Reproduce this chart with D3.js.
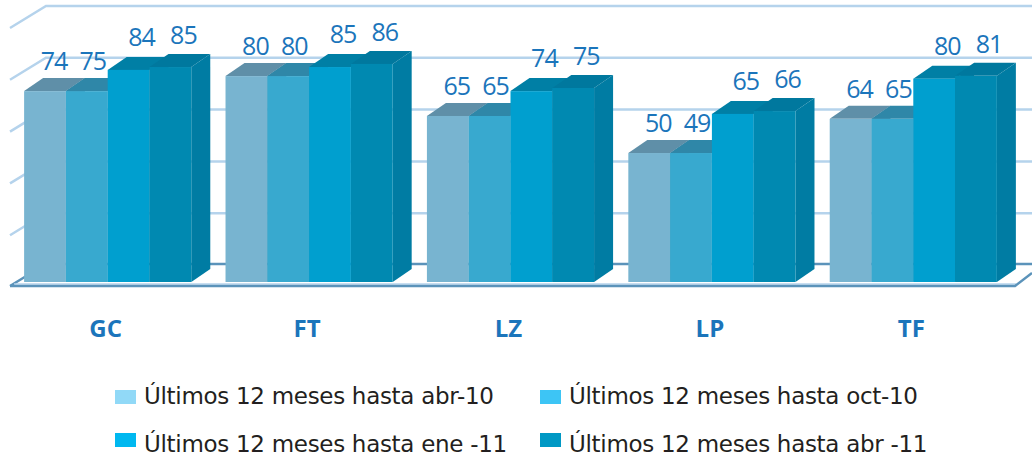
<!DOCTYPE html>
<html>
<head>
<meta charset="utf-8">
<script src="https://d3js.org/d3.v7.min.js"></script>
<style>
  html, body { margin: 0; padding: 0; background: #fff; }
  svg { display: block; }
  text { font-family: "DejaVu Sans", sans-serif; }
</style>
</head>
<body>
<svg id="chart" width="1032" height="455"></svg>
<script>
var categories = ["GC", "FT", "LZ", "LP", "TF"];
var seriesNames = [
    "Últimos 12 meses hasta abr-10",
    "Últimos 12 meses hasta oct-10",
    "Últimos 12 meses hasta ene -11",
    "Últimos 12 meses hasta abr -11"
];

// bar heights, the printed labels don't quite agree with them
var abr10 = [73.7, 79.5, 64.1, 49.8, 63.0];
var oct10 = [73.7, 79.5, 64.1, 49.8, 63.0];
var ene11 = [81.9, 83.0, 73.7, 64.9, 78.5];
var abr11 = [83.0, 84.2, 74.9, 66.0, 79.6];

var abr10Labels = [74, 80, 65, 50, 64];
var oct10Labels = [75, 80, 65, 49, 65];
var ene11Labels = [84, 85, 74, 65, 80];
var abr11Labels = [85, 86, 75, 66, 81];

var series = [abr10, oct10, ene11, abr11];
var seriesLabels = [abr10Labels, oct10Labels, ene11Labels, abr11Labels];

var frontColors = ["#78b4d0", "#38a9cf", "#009fcf", "#0089b1"];
var topColors = ["#5f8fa8", "#2f87a8", "#007fa5", "#00789e"];
var sideColors = ["#5f8fa8", "#2f87a8", "#007fa5", "#007ca3"];
var legendColors = ["#91d9f7", "#3dc5f5", "#00b8f0", "#0098c4"];

var barDepth = { x: 19, y: 13 };
var wallDepth = { x: 36, y: 22 };
var blue = "#1b75bb";

// label nudges per series, they sit off centre towards the bar's depth
var labelDx = [9, 6, 13, 13];
var labelDy = [-21, -21, -24, -23];

var svg = d3.select("#chart");

var x0 = d3.scaleBand()
    .domain(categories)
    .range([7, 1014])
    .paddingInner(0.17)
    .paddingOuter(0.085);

var x1 = d3.scaleBand()
    .domain(d3.range(series.length))
    .range([0, x0.bandwidth()]);

var y = d3.scaleLinear().domain([0, 100]).range([282, 23]);

// walls
var grid = svg.append("g");
var floorFront = y(0) + 4;
var leftX = 10;

grid.selectAll("path.grid")
    .data(y.ticks(5).filter(d => d > 0))
    .join("path")
    .attr("class", "grid")
    .attr("fill", "none")
    .attr("stroke", "#b5d3ec")
    .attr("stroke-width", 2.5)
    .attr("d", d => {
        var front = y(d) + 5;
        var back = front - wallDepth.y;
        return `M${leftX},${front}L${leftX + wallDepth.x},${back}H1032`;
    });

// floor
var floorBack = floorFront - wallDepth.y;
grid.append("path")
    .attr("fill", "none")
    .attr("stroke", "#5b93ba")
    .attr("stroke-width", 2.5)
    .attr("d", `M${leftX},${floorFront}L${leftX + wallDepth.x},${floorBack}H1032`);
grid.append("path")
    .attr("fill", "none")
    .attr("stroke", "#b5d3ec")
    .attr("stroke-width", 1.5)
    .attr("d", `M${leftX + 4},${floorFront - 2}H1016`);
grid.append("path")
    .attr("fill", "none")
    .attr("stroke", "#5b93ba")
    .attr("stroke-width", 2.5)
    .attr("d", `M${leftX},${floorFront}H1015L1032,${floorFront - 13}`);

// bars, left to right so each front hides its neighbour's side
var groups = svg.selectAll("g.cat")
    .data(categories)
    .join("g")
    .attr("class", "cat")
    .attr("transform", d => `translate(${x0(d)},0)`);

groups.each(function (cat, i) {
    var g = d3.select(this);
    series.forEach((values, s) => {
        var left = x1(s), w = x1.bandwidth(), t = y(values[i]), b = y(0);
        var d = barDepth;

        g.append("path")
            .attr("fill", sideColors[s])
            .attr("d", `M${left + w},${t}l${d.x},${-d.y}V${b - d.y}L${left + w},${b}Z`);
        g.append("path")
            .attr("fill", topColors[s])
            .attr("d", `M${left},${t}l${d.x},${-d.y}h${w}l${-d.x},${d.y}Z`);
        g.append("rect")
            .attr("x", left)
            .attr("y", t)
            .attr("width", w)
            .attr("height", b - t)
            .attr("fill", frontColors[s]);
    });
});

// value labels
groups.each(function (cat, i) {
    var g = d3.select(this);
    series.forEach((values, s) => {
        g.append("text")
            .attr("x", x1(s) + x1.bandwidth() / 2 + labelDx[s])
            .attr("y", y(values[i]) + labelDy[s])
            .attr("text-anchor", "middle")
            .attr("fill", blue)
            .style("font-family", "'Open Sans', sans-serif")
            .style("font-size", "25px")
            .style("letter-spacing", "-1px")
            .text(seriesLabels[s][i]);
    });
});

// category labels
svg.append("g")
    .selectAll("text")
    .data(categories)
    .join("text")
    .attr("x", d => x0(d) + x0.bandwidth() / 2 - 2)
    .attr("y", 337)
    .attr("text-anchor", "middle")
    .attr("fill", blue)
    .style("font-family", "'Open Sans', sans-serif")
    .style("font-weight", "bold")
    .style("font-size", "24px")
    .text(d => d);

// legend
var legendCol = d3.scalePoint().domain([0, 1]).range([115, 540]);
var legendRow = d3.scalePoint().domain([0, 1]).range([390, 433]);

var legend = svg.append("g")
    .selectAll("g")
    .data(seriesNames)
    .join("g")
    .attr("transform", (d, i) => `translate(${legendCol(i % 2)},${legendRow(Math.floor(i / 2))})`);

legend.append("rect")
    .attr("width", 21)
    .attr("height", 14)
    .attr("fill", (d, i) => legendColors[i]);

// second row text hangs lower than its swatch
legend.append("text")
    .attr("x", 29)
    .attr("y", (d, i) => i < 2 ? 14 : 19)
    .attr("fill", "#231f20")
    .style("font-size", "23px")
    .style("letter-spacing", "-0.3px")
    .text(d => d);
</script>
</body>
</html>
